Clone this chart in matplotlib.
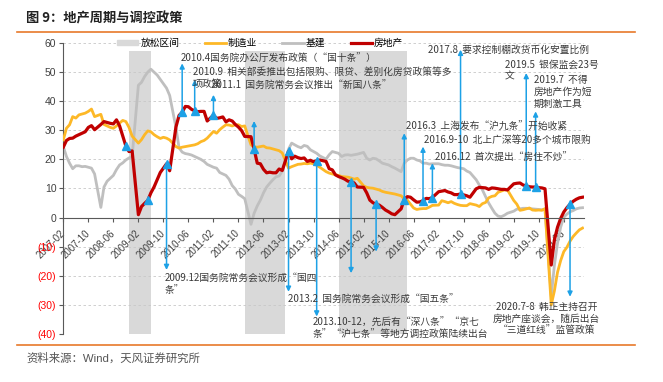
import numpy as np
import pandas as pd
import matplotlib
matplotlib.use("Agg")
import matplotlib.pyplot as plt
from matplotlib.patches import Patch
from matplotlib.lines import Line2D

plt.rcParams['font.family'] = ['Liberation Sans', 'Noto Sans CJK SC']

# 固定资产投资累计同比(%)，每年2-12月（1月无数据）
real_estate = [
    24.2, 26.5, 27.2, 27.3, 28.0, 28.5, 29.0, 29.5, 31.0, 31.6, 30.2,   # 2007
    32.0, 33.0, 32.7, 32.4, 32.2, 33.6, 31.5, 28.0, 24.6, 22.7, 22.9,   # 2008
    1.0, 3.8, 4.9, 5.9, 8.5, 10.5, 13.0, 15.5, 17.0, 18.5, 16.1,        # 2009
    31.1, 35.1, 36.2, 38.2, 38.1, 37.2, 36.7, 36.4, 36.5, 36.5, 33.2,   # 2010
    35.2, 34.1, 34.3, 34.6, 32.9, 33.6, 33.2, 32.0, 31.1, 29.9, 27.9,   # 2011
    27.8, 23.5, 18.7, 18.5, 16.6, 15.4, 15.6, 15.4, 15.4, 16.7, 16.2,   # 2012
    22.8, 20.2, 21.1, 20.6, 20.3, 20.5, 19.3, 19.7, 19.2, 19.5, 19.8,   # 2013
    19.3, 16.8, 16.4, 14.7, 14.1, 13.7, 13.2, 12.5, 12.4, 11.9, 10.5,   # 2014
    10.4, 8.5, 6.0, 5.1, 4.6, 4.3, 3.5, 2.6, 2.0, 1.3, 1.0,             # 2015
    3.0, 6.2, 7.2, 7.0, 6.1, 5.3, 5.4, 5.8, 6.6, 6.5, 6.9,              # 2016
    8.9, 9.1, 9.3, 8.8, 8.5, 7.9, 7.9, 8.1, 7.8, 7.5, 7.0,              # 2017
    9.9, 10.4, 10.3, 10.2, 9.7, 10.2, 10.1, 9.9, 9.7, 9.7, 9.5,         # 2018
    11.6, 11.8, 11.9, 11.2, 10.9, 10.6, 10.5, 10.5, 10.3, 10.2, 9.9,    # 2019
    -16.3, -7.7, -3.3, -0.3, 1.9, 3.4, 4.6, 5.6, 6.3, 6.8, 7.0,         # 2020
]
manufacturing = [
    26.7, 30.7, 31.9, 34.7, 34.2, 35.3, 35.6, 35.9, 36.5, 37.3, 34.7,
    35.5, 32.0, 31.5, 31.0, 30.7, 31.5, 32.5, 33.4, 33.0, 31.0, 28.0,
    25.6, 26.8, 28.5, 29.8, 29.5, 28.5, 27.8, 27.2, 27.6, 27.3, 26.7,
    24.4, 23.9, 24.2, 24.4, 24.6, 24.8, 25.0, 25.4, 26.1, 26.5, 27.3,
    29.6, 29.0, 30.2, 31.1, 31.9, 31.8, 31.5, 31.9, 31.9, 31.3, 31.5,
    25.0, 24.3, 24.2, 24.4, 24.6, 24.0, 23.9, 23.6, 23.3, 23.0, 22.2,
    17.0, 17.5, 17.9, 18.3, 18.4, 18.6, 18.5, 18.7, 18.5, 18.0, 17.3,
    15.8, 15.3, 15.0, 14.7, 14.5, 14.1, 14.0, 13.9, 13.6, 13.2, 13.5,
    10.9, 10.4, 10.2, 10.1, 9.8, 9.5, 9.0, 8.7, 8.5, 8.3, 8.1,
    7.5, 6.4, 6.0, 4.6, 3.3, 2.8, 3.0, 3.1, 3.1, 3.6, 4.2,
    4.3, 5.8, 5.5, 5.1, 5.5, 4.9, 4.5, 4.2, 4.1, 4.1, 4.8,
    4.3, 3.8, 4.8, 5.2, 6.8, 7.3, 7.5, 8.7, 9.1, 9.5, 9.5,
    5.9, 4.6, 2.5, 2.7, 3.0, 3.3, 2.6, 2.5, 2.6, 2.5, 3.1,
    -30.0, -25.2, -18.8, -14.8, -11.7, -10.2, -8.1, -6.5, -5.3, -4.2, -3.6,
]
infrastructure = [
    24.4, 21.0, 18.7, 16.8, 17.8, 17.8, 17.5, 17.6, 17.3, 17.0, 15.0,
    3.5, 10.5, 12.5, 13.5, 14.5, 16.5, 18.1, 18.8, 19.8, 20.5, 21.0,
    45.5, 46.5, 48.5, 50.0, 51.0, 50.0, 49.0, 47.5, 46.0, 44.5, 42.0,
    31.0, 24.0, 22.5, 22.0, 21.8, 21.5, 21.0, 20.5, 20.0, 19.3, 18.3,
    17.3, 17.0, 15.5, 15.0, 14.5, 13.2, 11.0, 9.8, 8.0, 7.3, 6.5,
    -2.3, 1.5, 4.0, 6.0, 8.5, 10.5, 11.8, 13.0, 14.0, 14.3, 16.0,
    23.5, 25.6, 25.0, 24.4, 24.0, 24.8, 24.5, 23.3, 22.7, 22.1, 21.2,
    20.1, 21.6, 22.7, 22.4, 22.1, 21.0, 21.5, 21.6, 21.4, 21.6, 21.8,
    22.4, 20.4, 19.8, 20.4, 20.2, 19.5, 18.7, 18.4, 18.1, 17.5, 17.0,
    15.8, 18.7, 19.8, 20.4, 20.4, 19.8, 19.5, 18.7, 18.7, 18.4, 18.5,
    18.5, 18.2, 18.0, 18.0, 17.8, 17.5, 17.2, 17.0, 16.8, 16.0, 15.5,
    13.0, 11.2, 9.5, 7.2, 5.0, 3.2, 1.5, 0.5, 0.3, 0.8, 1.5,
    2.2, 2.9, 3.0, 3.2, 3.2, 3.1, 3.0, 2.9, 2.8, 2.7, 2.8,
    -27.0, -16.4, -8.8, -3.3, 0.1, 1.2, 2.0, 2.4, 3.0, 3.3, 3.4,
]

# 放松区间
ease_start = ['2008-11', '2011-12', '2014-06']
ease_end = ['2009-06', '2013-01', '2016-04']

y_ticks = [60, 50, 40, 30, 20, 10, 0, -10, -20, -30, -40]

# 政策事件：(标注月份, 箭头终点, 文字行, 文字x(月), 首行y, 对齐)
events = [
    ('2009-11', -18.0, ['2009.12国务院常务会议形成“国四', '条”'], 32.4, -20.8, 'left'),
    ('2010-04', 53.0, ['2010.4国务院办公厅发布政策（“国十条”）'], 37.5, 54.5, 'left'),
    ('2010-08', 47.4, ['2010.9  相关部委推出包括限购、限贷、差别化房贷政策等多', '项政策'], 41.4, 49.9, 'left'),
    ('2011-02', 42.2, ['2011.1  国务院常务会议推出“新国八条”'], 47.3, 45.1, 'left'),
    ('2012-03', 33.2, [], 0, 0, 'left'),
    ('2013-02', -25.5, ['2013.2  国务院常务会议形成“国五条”'], 71.7, -28.3, 'left'),
    ('2013-11', -34.0, ['2013.10-12，先后有“深八条”“京七', '条”“沪七条”等地方调控政策陆续出台'], 79.8, -36.3, 'left'),
    ('2014-10', -19.1, [], 0, 0, 'left'),
    ('2015-06', -11.7, [], 0, 0, 'left'),
    ('2016-03', 29.0, ['2016.3  上海发布“沪九条”开始收紧'], 109.4, 31.3, 'left'),
    ('2016-09', 24.4, ['2016.9-10  北上广深等20多个城市限购'], 115.2, 26.7, 'left'),
    ('2016-12', 18.7, ['2016.12  首次提出“房住不炒”'], 118.9, 20.4, 'left'),
    ('2017-09', 57.7, ['2017.8  要求控制棚改货币化安置比例'], 116.6, 57.7, 'left'),
    ('2019-06', 49.7, ['2019.5  银保监会23号', '文'], 141.2, 52.5, 'left'),
    ('2019-09', 36.5, ['2019.7  不得', '房地产作为短', '期刺激工具'], 150.5, 47.4, 'left'),
    ('2020-08', -27.2, ['2020.7-8  韩正主持召开', '房地产座谈会，随后出台', '“三道红线”监管政策'], 154.5, -30.8, 'center'),
]
plain_marks = ['2008-10', '2009-05']

base = pd.Period('2007-02', freq='M')


def month_pos(s):
    p = pd.Period(s, freq='M')
    return (p.year - base.year) * 12 + p.month - base.month


months = pd.period_range('2007-02', '2020-12', freq='M')
months = months[months.month != 1]
x = np.array([month_pos(str(p)) for p in months])
re_series = pd.Series(real_estate, index=x)

fig = plt.figure(figsize=(6.63, 3.82), dpi=100)
ax = fig.add_axes([0.0955, 0.1257, 0.7855, 0.7617])

c_red = '#C00000'
c_org = '#FDB827'
c_gry = '#BFBFBF'
c_blue = '#1DA1E6'
c_txt = '#3A3A3A'

for s, e in zip(ease_start, ease_end):
    ax.fill_between([month_pos(s), month_pos(e)], -40, 57.2, color='#D9D9D9', lw=0, zorder=0)

for v in y_ticks:
    ax.axhline(v, color='#C8C8C8', lw=0.6, ls=(0, (3, 3)), zorder=0.5)

ax.plot(x, infrastructure, color=c_gry, lw=2.0, zorder=2)
ax.plot(x, manufacturing, color=c_org, lw=2.0, zorder=3)
ax.plot(x, real_estate, color=c_red, lw=2.3, zorder=4)

line_gap = 4.1
for mon, end, lines, tx, ty, ha in events:
    m = month_pos(mon)
    v = re_series[m]
    ax.annotate('', xy=(m, end), xytext=(m, v),
                arrowprops=dict(arrowstyle='-|>', color=c_blue, lw=1.1,
                                mutation_scale=7, shrinkA=0, shrinkB=0), zorder=6)
    ax.plot(m, v, '^', color=c_blue, ms=6, zorder=7)
    for i, t in enumerate(lines):
        ax.text(tx, ty - i * line_gap, t, fontsize=7, color=c_txt, ha=ha, va='center',
                family=['Noto Sans CJK SC'], zorder=8)
for mon in plain_marks:
    m = month_pos(mon)
    ax.plot(m, re_series[m], '^', color=c_blue, ms=6, zorder=7)

ax.set_xlim(0, 166.5)
ax.set_ylim(-40, 60)

for sp in ['top', 'right']:
    ax.spines[sp].set_visible(False)
ax.spines['bottom'].set_position(('data', 0))
ax.spines['bottom'].set_color('#595959')
ax.spines['bottom'].set_zorder(5)
ax.spines['left'].set_color('#595959')

ax.set_yticks(y_ticks)
ax.set_yticklabels([str(v) if v >= 0 else '(%d)' % -v for v in y_ticks])
for lbl, v in zip(ax.get_yticklabels(), y_ticks):
    lbl.set_color('#FF0000' if v < 0 else '#404040')
ax.tick_params(axis='y', labelsize=7.5, length=3, color='#595959', pad=2)

xt = list(range(0, 161, 8))
ax.set_xticks(xt)
ax.set_xticklabels([(base + k).strftime('%Y-%m') for k in xt], rotation=45,
                   ha='right', va='center', rotation_mode='anchor')
ax.tick_params(axis='x', labelsize=7, length=3, color='#595959', pad=7, labelcolor='#404040')

handles = [Patch(color='#D9D9D9', label='放松区间'),
           Line2D([], [], color=c_org, lw=2.0, label='制造业'),
           Line2D([], [], color=c_gry, lw=2.0, label='基建'),
           Line2D([], [], color=c_red, lw=2.3, label='房地产')]
fig.legend(handles=handles, loc='center left', bbox_to_anchor=(117 / 663, 1 - 43 / 382),
           ncol=4, frameon=False, fontsize=7, handlelength=2.2, handleheight=0.5,
           columnspacing=2.6, handletextpad=0.2, borderaxespad=0, borderpad=0)

fig.text(26 / 663, 1 - 18 / 382, '图 9：地产周期与调控政策', fontsize=9.5, fontweight='bold',
         color='#222222', va='center', ha='left', family=['Noto Sans CJK SC'])
fig.add_artist(Line2D([17 / 663, 635 / 663], [1 - 32 / 382] * 2, transform=fig.transFigure,
                      color='#E8792A', lw=1.2))
fig.add_artist(Line2D([17 / 663, 635 / 663], [1 - 345 / 382] * 2, transform=fig.transFigure,
                      color='#E8792A', lw=1.2))
fig.text(26 / 663, 1 - 358 / 382, '资料来源：Wind，天风证券研究所', fontsize=8.2,
         color='#555555', va='center', ha='left')

fig.savefig('out.png', dpi=100)
